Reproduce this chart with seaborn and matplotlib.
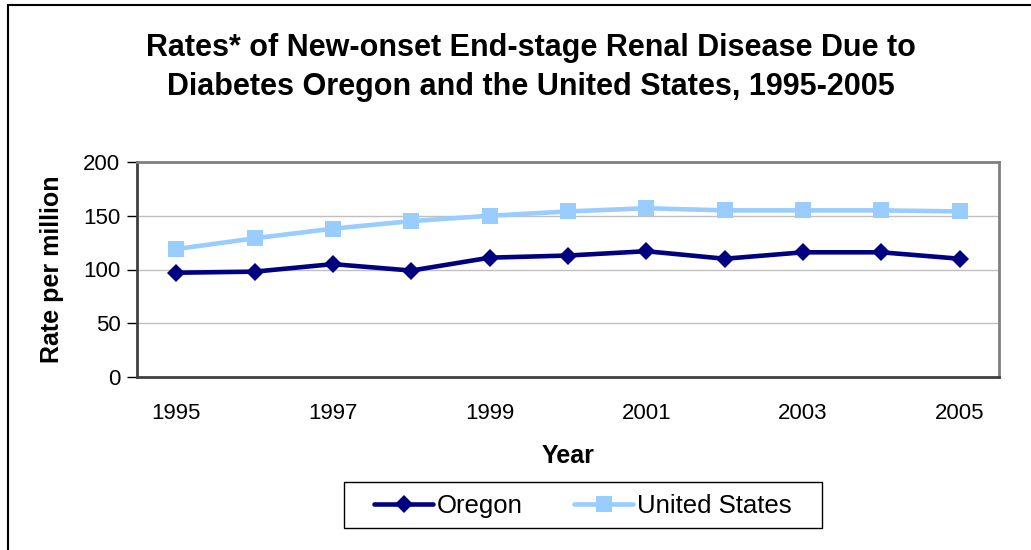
import matplotlib
matplotlib.use("Agg")
import matplotlib.pyplot as plt
import matplotlib.patches as mpatches
from matplotlib.ticker import MultipleLocator, FixedLocator
import pandas as pd
import seaborn as sns

# Data
years = [1995, 1996, 1997, 1998, 1999, 2000, 2001, 2002, 2003, 2004, 2005]
oregon = [97, 98, 105, 99, 111, 113, 117, 110, 116, 116, 110]
united_states = [119, 129, 138, 145, 150, 154, 157, 155, 155, 155, 154]
tick_years = [1995, 1997, 1999, 2001, 2003, 2005]

TITLE = ("Rates* of New-onset End-stage Renal Disease Due to\n"
         "Diabetes Oregon and the United States, 1995-2005")

sns.set_style("white")
plt.rcParams["font.family"] = ["Liberation Sans", "DejaVu Sans"]
plt.rcParams.update({"text.color": "black", "axes.labelcolor": "black",
                     "xtick.color": "black", "ytick.color": "black"})

df = pd.DataFrame({"Year": years, "Oregon": oregon, "United States": united_states})

fig = plt.figure(figsize=(10.31, 5.5), dpi=100)
ax = fig.add_axes([137 / 1031, 173 / 550, 862 / 1031, 215 / 550])

sns.lineplot(data=df, x="Year", y="Oregon", ax=ax, color="#000080",
             linewidth=3.3, marker="D", markersize=9.5, markeredgewidth=0,
             label="Oregon")
sns.lineplot(data=df, x="Year", y="United States", ax=ax, color="#99CCFF",
             linewidth=3.3, marker="s", markersize=11, markeredgewidth=0,
             label="United States")

ax.set_xlim(years[0] - 0.5, years[-1] + 0.5)
ax.set_ylim(0, 200)
ax.yaxis.set_major_locator(MultipleLocator(50))
ax.yaxis.grid(True, color="#C0C0C0", linewidth=1)
ax.xaxis.grid(False)

ax.set_xticks(tick_years)
ax.set_xticklabels([str(y) for y in tick_years])
ax.xaxis.set_minor_locator(FixedLocator([y - 0.5 for y in years] + [years[-1] + 0.5]))
ax.tick_params(axis="x", which="major", length=0, labelsize=16, pad=19)
ax.tick_params(axis="x", which="minor", length=7, width=1, color="black", direction="out")
ax.tick_params(axis="y", which="major", length=7, width=1, color="black",
               direction="out", labelsize=16, pad=5, left=True)

for side in ["top", "right"]:
    ax.spines[side].set_color("#808080")
    ax.spines[side].set_linewidth(2)
for side in ["left", "bottom"]:
    ax.spines[side].set_color("#404040")
    ax.spines[side].set_linewidth(2)

ax.set_xlabel("Year", fontsize=18, fontweight="bold", labelpad=14)
ax.set_ylabel("Rate per million", fontsize=18, fontweight="bold", labelpad=14)

fig.text(0.515, 0.877, TITLE, ha="center", va="center", fontsize=22,
         fontweight="bold", linespacing=1.38, color="black")

ax.get_legend().remove()
handles, labels = ax.get_legend_handles_labels()
leg = fig.legend(handles, labels, loc="center", bbox_to_anchor=(583 / 1031, 44 / 550),
                 ncol=2, frameon=False, fontsize=18.5,
                 handlelength=2.3, handletextpad=0.15, columnspacing=2.0)

# legend frame, wider than matplotlib's padding allows
fig.patches.append(mpatches.Rectangle((344 / 1031, 22 / 550), 478 / 1031, 46 / 550,
                                      transform=fig.transFigure, fill=False,
                                      edgecolor="black", linewidth=1))

# outer chart-area border (only left and top visible in the reference)
fig.patches.append(mpatches.Rectangle((8 / 1031, -0.05), 1.2, 1 - 5 / 550 + 0.05,
                                      transform=fig.transFigure, fill=False,
                                      edgecolor="black", linewidth=1.5))

fig.savefig("out.png", dpi=100)
